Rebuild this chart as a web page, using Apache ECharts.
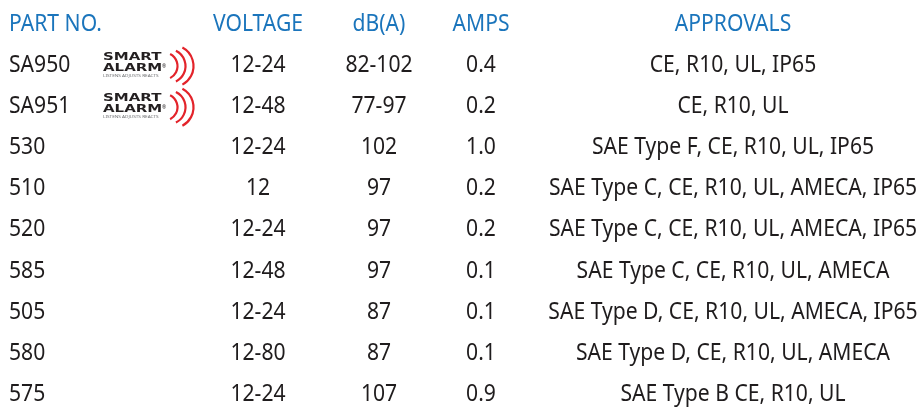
<!DOCTYPE html>
<html lang="en">
<head>
    <meta charset="UTF-8"/>
    <title>horns</title>
    <script src="https://cdn.jsdelivr.net/npm/echarts@6/dist/echarts.min.js"></script>
    <style>
        html, body {margin: 0; padding: 0; background: #fff;}
    </style>
</head>
<body>

<div id="main" style="width: 922px;height:410px;"></div>

<script type="text/javascript">
    // table data
    var headers = ['PART NO.', 'VOLTAGE', 'dB(A)', 'AMPS', 'APPROVALS'];
    var partNos = ['SA950', 'SA951', '530', '510', '520', '585', '505', '580', '575'];
    var smartAlarm = [true, true, false, false, false, false, false, false, false];
    var voltage = ['12-24', '12-48', '12-24', '12', '12-24', '12-48', '12-24', '12-80', '12-24'];
    var dbA = ['82-102', '77-97', '102', '97', '97', '97', '87', '87', '107'];
    var amps = ['0.4', '0.2', '1.0', '0.2', '0.2', '0.1', '0.1', '0.1', '0.9'];
    var approvals = [
        'CE, R10, UL, IP65',
        'CE, R10, UL',
        'SAE Type F, CE, R10, UL, IP65',
        'SAE Type C, CE, R10, UL, AMECA, IP65',
        'SAE Type C, CE, R10, UL, AMECA, IP65',
        'SAE Type C, CE, R10, UL, AMECA',
        'SAE Type D, CE, R10, UL, AMECA, IP65',
        'SAE Type D, CE, R10, UL, AMECA',
        'SAE Type B CE, R10, UL'
    ];

    var rows = ['header'].concat(partNos);

    // column anchors on the x scale (0..922)
    var colX = [9, 258, 379, 481, 733];
    var colAlign = ['left', 'center', 'center', 'center', 'center'];

    var FONT = '"Noto Sans", "Open Sans", sans-serif';
    var BLUE = '#1b75bc';
    var INK = '#1f1c1d';
    var RED = '#e3232a';

    function cell(x, y, text, align, color) {
        return {
            type: 'text',
            x: x,
            y: y,
            scaleX: 0.88,
            style: {
                text: text,
                fontFamily: FONT,
                fontSize: 24,
                fill: color,
                align: align,
                verticalAlign: 'middle'
            }
        };
    }

    function logo(x, y) {
        // x = left edge of the word mark, y = row centre
        var kids = [];
        kids.push({
            type: 'text', x: x, y: y - 7.5, scaleX: 1.5,
            style: {text: 'SMART', fontFamily: '"DejaVu Sans", sans-serif', fontWeight: 'bold',
                fontSize: 10, fill: '#231f20', align: 'left', verticalAlign: 'middle'}
        });
        kids.push({
            type: 'text', x: x, y: y + 3.5, scaleX: 1.5,
            style: {text: 'ALARM', fontFamily: '"DejaVu Sans", sans-serif', fontWeight: 'bold',
                fontSize: 10, fill: '#231f20', align: 'left', verticalAlign: 'middle'}
        });
        kids.push({
            type: 'text', x: x + 59, y: y + 1,
            style: {text: '®', fontFamily: FONT, fontSize: 5, fill: '#231f20', align: 'left', verticalAlign: 'middle'}
        });
        kids.push({
            type: 'text', x: x, y: y + 11, scaleX: 1.3,
            style: {text: 'LISTENS ADJUSTS REACTS', fontFamily: FONT, fontSize: 3.6,
                fill: '#6d6e71', align: 'left', verticalAlign: 'middle'}
        });
        var arcs = [
            {cx: 61, r: 13.5, a: 1.1},
            {cx: 65.5, r: 17, a: 1.12},
            {cx: 69.5, r: 21, a: 1.08}
        ];
        arcs.forEach(function (a) {
            kids.push({
                type: 'arc',
                shape: {cx: x + a.cx, cy: y + 1, r: a.r, startAngle: -a.a, endAngle: a.a, clockwise: true},
                style: {stroke: RED, lineWidth: 2.2, fill: 'none'}
            });
        });
        return {type: 'group', children: kids};
    }

    function renderRow(params, api) {
        var i = params.dataIndex;
        var y = api.coord([0, i])[1];
        var xs = colX.map(function (c) { return api.coord([c, i])[0]; });
        var children = [];
        if (i === 0) {
            headers.forEach(function (h, c) {
                children.push(cell(xs[c], y, h, colAlign[c], BLUE));
            });
        } else {
            var r = i - 1;
            var vals = [partNos[r], voltage[r], dbA[r], amps[r], approvals[r]];
            vals.forEach(function (v, c) {
                children.push(cell(xs[c], y, v, colAlign[c], INK));
            });
            if (smartAlarm[r]) {
                children.push(logo(api.coord([103, i])[0], y));
            }
        }
        return {type: 'group', children: children};
    }

    var myChart = echarts.init(document.getElementById('main'));

    var option = {
        animation: false,
        grid: {left: 0, right: 0, top: 24, bottom: 16},
        xAxis: {type: 'value', min: 0, max: 922, show: false},
        yAxis: {type: 'category', data: rows, inverse: true, boundaryGap: false, show: false},
        series: [
            {
                type: 'custom',
                renderItem: renderRow,
                data: rows.map(function (_, i) { return [0, i]; })
            }
        ]
    };

    myChart.setOption(option);
</script>
</body>
</html>
